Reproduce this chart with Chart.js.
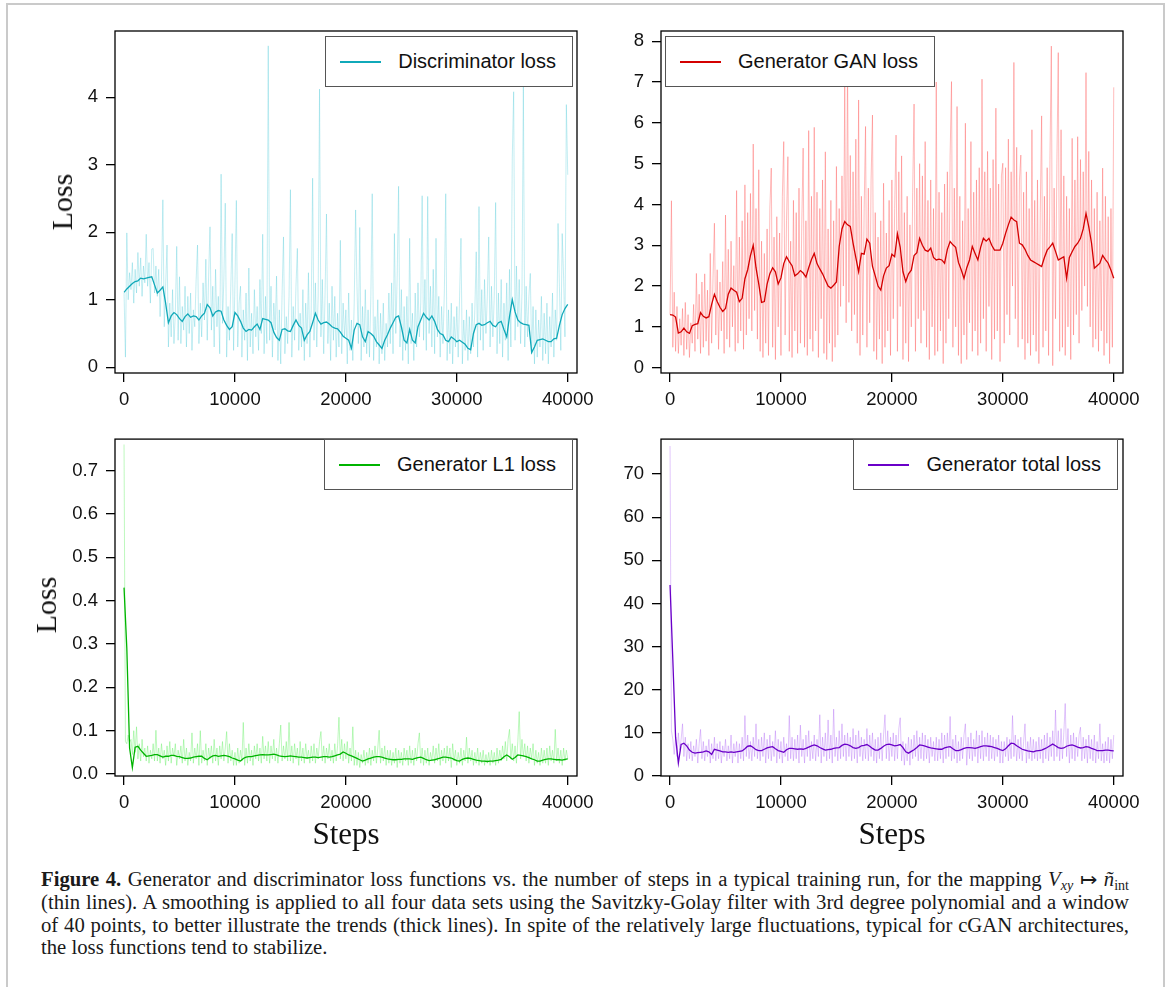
<!DOCTYPE html>
<html>
<head>
<meta charset="utf-8">
<script src="https://cdn.jsdelivr.net/npm/chart.js@4.4.1/dist/chart.umd.min.js"></script>
<style>
  html, body { margin: 0; padding: 0; background: #fff; }
  #page { position: relative; width: 1167px; height: 987px; overflow: hidden; background: #fff; }
  #frame { position: absolute; left: 6px; top: 3px; width: 1155px; height: 1000px; border: 2px solid #cacaca; }
  canvas { position: absolute; }
  .legend { position: absolute; height: 51px; box-sizing: border-box; border: 1.5px solid #555; background: #fff;
            display: flex; align-items: center; padding: 0 16px 0 14px; z-index: 2;
            font: 20px "Liberation Sans", Arial, sans-serif; color: #111; white-space: nowrap; }
  .legend .swatch { display: inline-block; width: 41px; height: 2px; margin-right: 17px; }
  .ytitle { position: absolute; font: 30px "Liberation Serif", "Times New Roman", serif; line-height: 30px;
            color: #111; white-space: nowrap; transform: translate(-50%, -50%) rotate(-90deg); }
  .xtitle { position: absolute; font: 31px "Liberation Serif", "Times New Roman", serif; line-height: 31px;
            color: #111; white-space: nowrap; transform: translateX(-50%); }
  .cap { position: absolute; left: 41px; font: 20px "Liberation Serif", "Times New Roman", serif; line-height: 20px;
         color: #1a1a1a; white-space: nowrap; transform-origin: 0 0; }
  .cap sub { font-size: 0.68em; vertical-align: -0.28em; line-height: 0; }
</style>
</head>
<body>
<div id="page">
  <div id="frame"></div>

  <canvas id="cDisc" width="610" height="420" style="left:0;top:0;"></canvas>
  <canvas id="cGan" width="577" height="420" style="left:590px;top:0;"></canvas>
  <canvas id="cL1" width="610" height="440" style="left:0;top:420px;"></canvas>
  <canvas id="cTot" width="577" height="440" style="left:590px;top:420px;"></canvas>

  <div class="legend" style="right:594px;top:36px;"><span class="swatch" style="background:#10a9b9"></span>Discriminator loss</div>
  <div class="legend" style="left:665px;top:36px;"><span class="swatch" style="background:#d40000"></span>Generator GAN loss</div>
  <div class="legend" style="right:594px;top:439px;"><span class="swatch" style="background:#00b400"></span>Generator L1 loss</div>
  <div class="legend" style="right:49px;top:439px;"><span class="swatch" style="background:#6a00c8"></span>Generator total loss</div>

  <div class="ytitle" style="left:61.5px;top:202px;">Loss</div>
  <div class="ytitle" style="left:46px;top:605px;">Loss</div>
  <div class="xtitle" style="left:346px;top:818px;">Steps</div>
  <div class="xtitle" style="left:892px;top:818px;">Steps</div>

  <div class="cap j" style="top:869px;"><span><b>Figure 4.</b> Generator and discriminator loss functions vs. the number of steps in a typical training run, for the mapping <i>V</i><sub><i>xy</i></sub> ↦ <i>ñ</i><sub>int</sub></span></div>
  <div class="cap j" style="top:892px;"><span>(thin lines). A smoothing is applied to all four data sets using the Savitzky-Golay filter with 3rd degree polynomial and a window</span></div>
  <div class="cap j" style="top:915px;"><span>of 40 points, to better illustrate the trends (thick lines). In spite of the relatively large fluctuations, typical for cGAN architectures,</span></div>
  <div class="cap" style="top:937px;"><span>the loss functions tend to stabilize.</span></div>
</div>

<script>
// ---- training steps at which the raw losses were logged ----
const rawSteps = [
  0,125,250,375,500,625,750,875,
  1000,1125,1250,1375,1500,1625,1750,1875,
  2000,2125,2250,2375,2500,2625,2750,2875,
  3000,3125,3250,3375,3500,3625,3750,3875,
  4000,4125,4250,4375,4500,4625,4750,4875,
  5000,5125,5250,5375,5500,5625,5750,5875,
  6000,6125,6250,6375,6500,6625,6750,6875,
  7000,7125,7250,7375,7500,7625,7750,7875,
  8000,8125,8250,8375,8500,8625,8750,8875,
  9000,9125,9250,9375,9500,9625,9750,9875,
  10000,10125,10250,10375,10500,10625,10750,10875,
  11000,11125,11250,11375,11500,11625,11750,11875,
  12000,12125,12250,12375,12500,12625,12750,12875,
  13000,13125,13250,13375,13500,13625,13750,13875,
  14000,14125,14250,14375,14500,14625,14750,14875,
  15000,15125,15250,15375,15500,15625,15750,15875,
  16000,16125,16250,16375,16500,16625,16750,16875,
  17000,17125,17250,17375,17500,17625,17750,17875,
  18000,18125,18250,18375,18500,18625,18750,18875,
  19000,19125,19250,19375,19500,19625,19750,19875,
  20000,20125,20250,20375,20500,20625,20750,20875,
  21000,21125,21250,21375,21500,21625,21750,21875,
  22000,22125,22250,22375,22500,22625,22750,22875,
  23000,23125,23250,23375,23500,23625,23750,23875,
  24000,24125,24250,24375,24500,24625,24750,24875,
  25000,25125,25250,25375,25500,25625,25750,25875,
  26000,26125,26250,26375,26500,26625,26750,26875,
  27000,27125,27250,27375,27500,27625,27750,27875,
  28000,28125,28250,28375,28500,28625,28750,28875,
  29000,29125,29250,29375,29500,29625,29750,29875,
  30000,30125,30250,30375,30500,30625,30750,30875,
  31000,31125,31250,31375,31500,31625,31750,31875,
  32000,32125,32250,32375,32500,32625,32750,32875,
  33000,33125,33250,33375,33500,33625,33750,33875,
  34000,34125,34250,34375,34500,34625,34750,34875,
  35000,35125,35250,35375,35500,35625,35750,35875,
  36000,36125,36250,36375,36500,36625,36750,36875,
  37000,37125,37250,37375,37500,37625,37750,37875,
  38000,38125,38250,38375,38500,38625,38750,38875,
  39000,39125,39250,39375,39500,39625,39750,39875,
  40000
];

// ---- steps of the smoothed (Savitzky-Golay) curves ----
const smoothSteps = [
  0,250,500,750,1000,1250,1500,1750,2000,2250,
  2500,2750,3000,3250,3500,3750,4000,4250,4500,4750,
  5000,5250,5500,5750,6000,6250,6500,6750,7000,7250,
  7500,7750,8000,8250,8500,8750,9000,9250,9500,9750,
  10000,10250,10500,10750,11000,11250,11500,11750,12000,12250,
  12500,12750,13000,13250,13500,13750,14000,14250,14500,14750,
  15000,15250,15500,15750,16000,16250,16500,16750,17000,17250,
  17500,17750,18000,18250,18500,18750,19000,19250,19500,19750,
  20000,20250,20500,20750,21000,21250,21500,21750,22000,22250,
  22500,22750,23000,23250,23500,23750,24000,24250,24500,24750,
  25000,25250,25500,25750,26000,26250,26500,26750,27000,27250,
  27500,27750,28000,28250,28500,28750,29000,29250,29500,29750,
  30000,30250,30500,30750,31000,31250,31500,31750,32000,32250,
  32500,32750,33000,33250,33500,33750,34000,34250,34500,34750,
  35000,35250,35500,35750,36000,36250,36500,36750,37000,37250,
  37500,37750,38000,38250,38500,38750,39000,39250,39500,39750,
  40000
];

// ---- discriminator loss ----
const discRaw = [
  1.10,0.15,1.99,1.00,1.40,1.15,1.55,0.95,
  1.45,1.10,1.70,1.20,1.62,1.05,1.50,1.25,
  1.97,1.20,1.55,0.95,1.75,1.76,1.10,1.50,
  1.05,1.45,0.75,1.30,2.48,0.60,1.20,1.81,
  0.30,0.95,0.45,1.15,0.35,0.80,1.79,0.40,
  1.34,0.35,0.90,0.55,1.20,0.30,1.05,0.50,
  1.10,0.25,0.85,0.60,1.30,1.81,0.35,0.95,
  0.45,1.25,0.70,1.60,0.40,1.35,2.08,0.55,
  1.20,0.30,1.45,0.60,1.05,0.20,2.86,0.65,
  1.30,2.43,0.15,0.90,0.40,1.20,1.98,0.25,
  1.25,2.47,0.30,0.95,1.20,0.15,0.85,0.40,
  1.10,0.10,1.47,0.30,0.80,0.20,1.15,0.45,
  0.90,0.25,1.30,0.50,1.97,0.20,1.05,0.35,
  4.76,0.40,1.20,0.15,0.95,0.55,1.35,0.10,
  0.85,0.05,1.10,1.93,0.20,0.75,0.35,1.05,
  2.63,0.15,0.90,0.40,1.20,1.76,0.25,0.80,
  0.30,1.15,0.10,0.95,0.35,1.40,0.15,0.85,
  2.80,0.40,1.25,0.30,1.05,4.12,0.45,1.30,
  0.20,1.10,2.27,0.35,0.95,0.10,1.20,0.40,
  1.05,0.15,0.80,0.30,1.88,0.20,0.95,0.45,
  0.85,0.05,1.10,0.25,0.70,0.10,0.95,2.33,
  1.20,0.35,2.07,0.10,0.90,0.30,1.15,0.20,
  0.85,0.15,1.05,2.57,0.10,0.75,0.30,1.00,
  0.05,0.80,0.20,0.95,0.10,0.65,0.30,1.10,
  0.35,1.25,0.20,1.98,0.50,1.35,2.68,0.30,
  1.15,0.10,0.90,0.25,1.05,0.05,1.91,0.35,
  0.80,0.10,1.10,0.30,1.25,0.45,0.95,2.54,
  0.40,1.30,0.25,2.53,0.50,1.20,0.30,1.45,
  0.20,1.91,0.45,1.05,0.15,0.90,0.35,1.10,
  2.57,0.10,0.85,0.20,0.95,0.05,0.75,0.30,
  0.90,0.15,1.05,1.91,0.05,0.70,0.25,0.85,
  0.10,0.75,0.20,0.95,0.30,0.85,1.71,0.15,
  2.38,0.40,1.15,0.25,1.30,0.50,1.05,1.93,
  0.30,1.20,0.45,1.05,2.44,0.20,1.10,0.35,
  1.30,0.15,0.95,0.40,1.25,0.10,1.45,0.30,
  3.10,4.08,0.40,1.50,0.60,1.30,0.35,1.10,
  4.16,0.30,1.20,0.45,1.05,1.39,0.20,0.90,
  0.05,0.85,0.15,0.70,0.30,1.05,0.10,0.80,
  0.20,0.95,0.05,0.75,0.30,1.10,0.15,0.85,
  0.40,2.13,1.20,0.25,1.98,1.35,0.45,3.89,
  2.85
];
const discSmooth = [
  1.11,1.16,1.20,1.24,1.27,1.28,1.32,1.31,1.32,1.33,
  1.34,1.22,1.10,1.14,1.19,0.95,0.66,0.76,0.81,0.78,
  0.72,0.68,0.75,0.79,0.74,0.76,0.75,0.70,0.76,0.80,
  0.93,0.88,0.76,0.82,0.84,0.83,0.70,0.62,0.56,0.60,
  0.81,0.76,0.68,0.58,0.53,0.56,0.55,0.60,0.64,0.56,
  0.72,0.71,0.70,0.66,0.52,0.44,0.40,0.56,0.57,0.54,
  0.53,0.62,0.70,0.62,0.58,0.40,0.48,0.53,0.66,0.80,
  0.70,0.64,0.66,0.67,0.64,0.60,0.58,0.57,0.52,0.46,
  0.43,0.40,0.28,0.55,0.65,0.63,0.45,0.38,0.53,0.50,
  0.46,0.38,0.33,0.28,0.40,0.48,0.58,0.66,0.74,0.76,
  0.60,0.40,0.36,0.56,0.40,0.36,0.60,0.70,0.80,0.74,
  0.70,0.76,0.68,0.56,0.50,0.48,0.40,0.38,0.45,0.42,
  0.38,0.40,0.37,0.34,0.28,0.26,0.50,0.63,0.65,0.62,
  0.63,0.66,0.68,0.62,0.60,0.66,0.68,0.56,0.45,0.75,
  1.00,0.82,0.70,0.66,0.64,0.63,0.62,0.22,0.30,0.40,
  0.41,0.42,0.40,0.38,0.38,0.42,0.43,0.62,0.78,0.87,
  0.93
];

// ---- generator GAN loss ----
const ganRaw = [
  1.30,4.09,0.50,1.85,0.40,1.50,0.35,1.20,
  0.55,1.45,0.30,1.60,0.45,1.30,0.25,1.10,
  0.60,1.55,0.40,2.31,0.70,1.80,0.35,2.10,
  0.50,2.30,0.65,1.90,0.30,2.80,0.60,2.20,
  3.54,0.80,2.40,0.45,2.10,0.90,2.60,0.35,
  3.74,0.70,2.90,0.50,3.10,1.00,2.50,0.40,
  4.34,0.60,3.20,0.90,3.60,0.45,4.48,0.80,
  3.80,1.20,4.27,0.90,5.48,1.40,3.90,0.70,
  4.85,0.40,3.10,0.25,2.80,0.60,3.40,0.30,
  3.90,4.89,0.50,3.20,0.20,3.70,1.00,3.30,
  0.30,4.20,5.54,0.80,3.60,5.17,0.40,3.10,
  0.25,4.10,0.90,3.80,0.35,4.40,0.60,3.50,
  5.38,0.50,3.60,0.30,5.81,0.70,4.20,0.40,
  5.89,0.90,4.30,0.25,3.90,1.20,4.60,0.35,
  5.29,0.20,3.40,0.60,4.10,0.15,3.60,0.50,
  4.93,0.80,3.90,1.50,4.70,2.00,6.89,1.10,
  7.50,1.60,5.20,0.90,4.80,1.30,5.60,0.60,
  6.56,0.30,4.20,0.80,3.90,5.91,0.50,4.40,
  1.10,4.60,6.19,0.40,3.80,0.20,3.20,0.70,
  3.60,0.10,4.52,0.50,3.30,0.90,4.10,0.30,
  4.60,1.20,3.90,5.70,0.40,4.80,1.50,5.19,
  0.20,3.80,0.60,4.20,0.15,3.50,1.00,4.30,
  6.46,0.40,4.40,1.20,5.00,0.60,4.70,1.40,
  5.54,0.50,4.10,0.20,4.60,1.00,3.90,0.30,
  7.00,0.40,4.30,0.90,3.80,0.10,4.50,0.60,
  4.80,1.20,5.20,7.01,0.50,4.40,1.00,6.40,
  0.30,4.20,0.10,3.60,0.80,5.99,0.20,3.90,
  1.10,5.54,0.40,4.30,0.90,4.60,0.30,4.90,
  0.60,7.07,1.20,4.80,0.40,5.30,1.50,4.40,
  0.20,5.10,0.70,6.36,0.90,4.50,0.15,4.70,
  5.01,0.60,4.90,1.30,5.60,0.80,4.80,2.00,
  7.48,1.20,5.40,0.50,4.60,5.21,0.70,4.30,
  0.20,4.80,0.60,3.90,0.30,5.83,0.80,4.10,
  0.40,4.60,0.10,3.80,6.17,0.50,4.20,0.90,
  4.90,0.30,5.10,7.88,0.05,4.40,1.20,5.00,
  7.72,0.40,5.83,0.50,4.70,0.30,4.20,1.00,
  3.90,0.20,5.62,0.80,4.60,1.30,5.66,0.60,
  5.10,1.40,4.80,2.00,7.23,1.50,5.30,1.00,
  4.60,0.50,3.90,0.70,4.30,0.40,3.60,0.90,
  4.89,0.30,4.20,0.60,3.70,0.10,3.90,0.50,
  6.87
];
const ganSmooth = [
  1.30,1.29,1.24,0.85,0.88,0.97,0.88,0.84,1.03,1.06,
  1.08,1.35,1.26,1.22,1.25,1.55,1.80,1.62,1.48,1.38,
  1.45,1.80,1.95,1.90,1.85,1.62,1.70,2.18,2.40,2.75,
  3.00,2.45,2.05,1.60,1.62,2.05,2.30,2.45,2.35,2.05,
  2.20,2.55,2.72,2.60,2.50,2.25,2.30,2.38,2.32,2.22,
  2.45,2.65,2.80,2.55,2.42,2.30,2.15,2.00,1.95,2.02,
  2.10,2.97,3.40,3.58,3.50,3.46,3.05,2.70,2.35,2.80,
  2.78,3.15,3.05,2.48,2.25,2.00,1.90,2.25,2.44,2.50,
  2.78,2.72,3.28,2.95,2.35,2.11,2.30,2.39,2.75,2.82,
  3.17,3.00,2.88,2.85,2.93,2.70,2.64,2.66,2.64,2.56,
  2.90,3.09,3.01,2.95,2.58,2.40,2.19,2.45,2.64,2.97,
  2.80,2.64,2.95,3.17,3.10,3.17,3.00,2.88,2.88,2.88,
  3.05,3.29,3.50,3.69,3.62,3.58,3.05,3.01,2.90,2.75,
  2.64,2.60,2.56,2.52,2.48,2.70,2.88,2.96,3.05,2.85,
  2.64,2.68,2.72,2.19,2.70,2.84,2.97,3.05,3.17,3.40,
  3.78,3.45,3.05,2.44,2.50,2.56,2.75,2.65,2.56,2.39,
  2.19
];

// ---- generator L1 loss ----
const l1Raw = [
  0.76,0.075,0.07,0.09,0.072,0.08,0.045,0.10,
  0.05,0.109,0.035,0.07,0.03,0.08,0.04,0.06,
  0.03,0.065,0.025,0.055,0.035,0.07,0.03,0.101,
  0.03,0.06,0.025,0.07,0.035,0.055,0.02,0.065,
  0.03,0.075,0.025,0.06,0.04,0.07,0.02,0.055,
  0.035,0.065,0.025,0.08,0.03,0.06,0.02,0.05,
  0.03,0.095,0.025,0.06,0.035,0.07,0.02,0.100,
  0.025,0.055,0.03,0.07,0.02,0.06,0.035,0.065,
  0.025,0.08,0.03,0.06,0.02,0.065,0.035,0.075,
  0.03,0.06,0.098,0.025,0.07,0.03,0.055,0.02,
  0.05,0.02,0.06,0.025,0.055,0.03,0.119,0.02,
  0.06,0.025,0.07,0.03,0.055,0.02,0.065,0.035,
  0.07,0.03,0.06,0.025,0.087,0.035,0.065,0.03,
  0.075,0.025,0.065,0.035,0.08,0.03,0.06,0.025,
  0.07,0.113,0.03,0.065,0.035,0.075,0.03,0.119,
  0.03,0.065,0.025,0.07,0.035,0.06,0.02,0.075,
  0.03,0.06,0.025,0.07,0.035,0.055,0.025,0.065,
  0.03,0.07,0.025,0.06,0.035,0.075,0.098,0.03,
  0.065,0.025,0.06,0.035,0.07,0.03,0.055,0.025,
  0.07,0.03,0.065,0.131,0.035,0.08,0.03,0.07,
  0.035,0.075,0.025,0.06,0.03,0.109,0.02,0.055,
  0.02,0.05,0.015,0.045,0.025,0.055,0.02,0.05,
  0.025,0.06,0.02,0.055,0.03,0.065,0.025,0.06,
  0.101,0.025,0.06,0.03,0.065,0.02,0.055,0.025,
  0.055,0.02,0.05,0.025,0.06,0.015,0.055,0.025,
  0.05,0.02,0.06,0.03,0.055,0.02,0.065,0.025,
  0.055,0.02,0.06,0.03,0.07,0.095,0.025,0.06,
  0.02,0.055,0.025,0.06,0.02,0.05,0.03,0.065,
  0.025,0.06,0.03,0.07,0.02,0.055,0.03,0.06,
  0.025,0.065,0.03,0.06,0.015,0.07,0.03,0.055,
  0.02,0.05,0.025,0.06,0.02,0.055,0.03,0.085,
  0.025,0.06,0.03,0.055,0.02,0.05,0.025,0.06,
  0.02,0.05,0.025,0.055,0.02,0.045,0.025,0.05,
  0.02,0.055,0.025,0.05,0.02,0.06,0.025,0.055,
  0.03,0.065,0.035,0.075,0.03,0.08,0.103,0.035,
  0.07,0.03,0.065,0.025,0.075,0.144,0.035,0.08,
  0.04,0.07,0.03,0.065,0.025,0.06,0.035,0.07,
  0.02,0.055,0.025,0.05,0.02,0.06,0.025,0.055,
  0.025,0.06,0.02,0.065,0.03,0.055,0.025,0.103,
  0.03,0.06,0.025,0.055,0.02,0.06,0.03,0.055,
  0.035
];
const l1Smooth = [
  0.43,0.29,0.06,0.015,0.062,0.064,0.055,0.048,0.041,0.042,
  0.043,0.045,0.045,0.042,0.039,0.041,0.041,0.043,0.043,0.041,
  0.040,0.038,0.036,0.036,0.037,0.039,0.040,0.041,0.041,0.036,
  0.033,0.038,0.042,0.043,0.041,0.042,0.043,0.042,0.040,0.037,
  0.035,0.032,0.030,0.036,0.039,0.040,0.040,0.042,0.043,0.044,
  0.045,0.044,0.044,0.045,0.046,0.044,0.042,0.041,0.040,0.041,
  0.042,0.041,0.040,0.039,0.039,0.038,0.037,0.038,0.039,0.039,
  0.038,0.039,0.040,0.040,0.039,0.040,0.042,0.044,0.046,0.051,
  0.048,0.044,0.042,0.039,0.036,0.033,0.030,0.032,0.035,0.037,
  0.039,0.040,0.040,0.039,0.037,0.035,0.034,0.033,0.033,0.034,
  0.034,0.035,0.035,0.035,0.034,0.036,0.038,0.039,0.036,0.033,
  0.031,0.032,0.033,0.035,0.037,0.039,0.039,0.038,0.037,0.034,
  0.031,0.030,0.034,0.036,0.037,0.036,0.034,0.032,0.031,0.030,
  0.030,0.029,0.030,0.030,0.031,0.032,0.034,0.040,0.044,0.040,
  0.034,0.038,0.044,0.043,0.042,0.040,0.038,0.035,0.033,0.030,
  0.030,0.032,0.034,0.035,0.035,0.034,0.033,0.033,0.032,0.034,
  0.035
];

// ---- generator total loss ----
const totalRaw = [
  76.5,10.5,8.5,5.0,9.0,4.5,10.0,6.0,
  8.5,12.1,4.5,9.0,3.5,7.5,4.0,8.0,
  3.5,7.0,4.5,8.5,3.0,7.5,10.8,4.0,
  8.0,3.5,7.0,4.5,8.5,3.0,7.5,4.0,
  9.0,3.5,7.5,4.0,8.0,3.0,7.0,4.5,
  8.5,3.5,7.0,4.0,9.5,3.0,7.5,4.5,
  8.0,3.0,7.5,4.0,9.0,3.5,14.0,4.5,
  9.5,4.0,8.0,3.5,9.0,4.5,12.1,4.0,
  8.5,3.5,9.0,4.5,10.0,3.0,8.5,4.0,
  9.5,3.5,8.0,4.5,10.5,3.0,8.5,4.0,
  8.0,3.0,9.0,4.5,7.5,3.5,14.0,4.0,
  9.0,3.5,8.5,4.0,9.5,3.0,11.8,4.5,
  8.5,3.0,9.5,4.5,10.5,3.5,8.0,4.0,
  9.5,3.5,8.5,4.5,14.2,3.0,9.0,4.5,
  10.0,3.5,13.0,4.0,9.5,3.0,15.5,4.5,
  9.0,3.5,10.5,4.0,12.1,4.5,9.5,3.5,
  10.0,4.5,9.0,3.5,11.0,4.0,9.5,3.0,
  10.5,4.5,9.0,3.5,8.5,4.0,11.0,3.5,
  9.5,4.5,10.0,3.5,8.5,3.0,9.0,4.0,
  10.0,3.5,9.5,14.2,4.0,10.5,3.5,9.0,
  4.5,10.0,3.5,9.5,4.0,11.0,13.5,3.5,
  8.0,2.5,7.5,3.5,9.0,2.5,8.5,4.0,
  9.5,4.5,10.5,3.5,9.0,4.0,10.0,3.5,
  9.5,4.0,8.5,3.0,9.0,4.5,8.0,3.5,
  9.0,3.5,8.5,4.0,10.0,3.0,9.5,4.0,
  10.0,4.5,13.8,3.5,8.5,4.0,9.5,3.0,
  8.0,3.5,9.0,4.0,9.5,12.1,2.5,9.0,
  4.0,10.0,3.5,8.5,4.5,10.5,3.0,9.5,
  4.0,10.5,3.5,9.0,4.5,10.0,3.5,9.5,
  4.0,9.0,3.5,8.5,4.5,9.5,3.0,8.0,
  3.0,8.0,4.5,9.0,3.5,8.5,4.0,14.0,
  4.5,9.5,3.5,8.5,4.0,9.0,3.5,8.0,
  12.1,3.0,8.0,4.0,9.0,3.5,8.5,4.0,
  8.0,3.5,9.0,4.0,8.5,3.0,9.5,4.0,
  10.0,3.5,9.0,4.5,10.5,3.5,15.3,4.5,
  10.5,3.5,11.0,4.0,10.0,16.8,4.5,11.0,
  3.0,9.5,4.0,10.0,3.5,9.0,4.5,9.5,
  11.3,3.5,9.0,4.0,8.5,3.0,9.5,4.0,
  8.5,3.5,9.5,3.0,8.0,4.0,12.1,3.5,
  7.5,3.0,8.0,3.5,9.0,3.0,8.5,4.0,
  9.5
];
const totalSmooth = [
  44.3,27.0,9.0,3.0,7.3,7.6,7.0,6.0,5.5,5.3,
  5.4,5.5,5.6,5.8,5.6,5.0,6.2,6.0,5.8,5.6,
  5.6,5.5,5.6,5.5,5.6,5.7,5.8,6.3,6.9,7.0,
  6.6,6.1,5.9,5.9,6.2,6.5,6.7,6.8,6.3,5.9,
  5.7,5.5,6.1,6.4,6.4,6.3,6.2,6.3,6.2,6.4,
  6.7,7.0,7.2,7.0,6.6,6.3,6.0,6.1,6.2,6.4,
  6.5,6.6,7.1,7.4,7.3,7.0,6.6,6.4,6.6,7.0,
  7.1,7.3,6.9,6.4,6.0,6.0,6.4,6.9,7.3,7.4,
  7.2,7.0,7.1,7.3,6.6,5.6,5.3,5.7,6.1,6.6,
  7.2,7.1,6.9,6.7,6.5,6.4,6.3,6.2,6.2,6.5,
  6.7,6.8,6.3,5.9,5.9,6.1,6.4,6.6,6.6,6.5,
  6.4,6.6,6.8,7.0,7.0,6.9,6.8,6.6,6.4,6.1,
  5.9,6.3,7.0,7.6,7.5,7.0,6.6,6.2,6.0,5.8,
  5.7,5.6,5.8,5.9,6.0,6.3,6.6,7.0,7.4,7.0,
  6.6,6.4,6.5,6.9,7.1,7.2,7.0,6.7,6.5,6.6,
  6.8,6.7,6.4,6.2,5.9,5.9,5.9,6.0,6.0,5.9,
  5.8
];

// ---- axis ticks ----
const stepTicks = [0, 10000, 20000, 30000, 40000];
const discTicks = [0, 1, 2, 3, 4];
const ganTicks = [0, 1, 2, 3, 4, 5, 6, 7, 8];
const l1Ticks = [0, 0.1, 0.2, 0.3, 0.4, 0.5, 0.6, 0.7];
const totalTicks = [0, 10, 20, 30, 40, 50, 60, 70];

const TICK_FONT = { family: '"Liberation Sans", Arial, sans-serif', size: 18.5 };
const AXIS_COLOR = '#000';

// closed box around each plotting area
const frameBox = {
  id: 'frameBox',
  afterDatasetsDraw(chart) {
    const { ctx, chartArea: a } = chart;
    ctx.save();
    ctx.strokeStyle = AXIS_COLOR;
    ctx.lineWidth = 1.3;
    ctx.strokeRect(a.left, a.top, a.right - a.left, a.bottom - a.top);
    ctx.restore();
  }
};

function points(steps, values) {
  return steps.map((s, i) => ({ x: s, y: values[i] }));
}

function panel(id, p) {
  return new Chart(document.getElementById(id), {
    type: 'line',
    data: {
      datasets: [
        { data: points(smoothSteps, p.smooth), borderColor: p.smoothColor, borderWidth: 1.3,
          pointRadius: 0, tension: 0, fill: false },
        { data: points(rawSteps, p.raw), borderColor: p.rawColor, borderWidth: 1,
          pointRadius: 0, tension: 0, fill: false }
      ]
    },
    options: {
      responsive: false,
      animation: false,
      events: [],
      layout: { padding: p.padding },
      plugins: { legend: { display: false }, tooltip: { enabled: false } },
      scales: {
        x: {
          type: 'linear', min: -815, max: 40835,
          afterBuildTicks: s => { s.ticks = stepTicks.map(v => ({ value: v })); },
          afterFit: s => { s.height = p.xHeight; },
          ticks: { font: TICK_FONT, color: '#111', padding: 7, maxRotation: 0, autoSkip: false,
                   callback: v => String(v) },
          grid: { drawOnChartArea: false, drawTicks: true, tickLength: 9, color: AXIS_COLOR, lineWidth: 1.3 },
          border: { display: false }
        },
        y: {
          type: 'linear', min: p.yMin, max: p.yMax,
          afterBuildTicks: s => { s.ticks = p.yTicks.map(v => ({ value: v })); },
          afterFit: s => { s.width = p.yWidth; },
          ticks: { font: TICK_FONT, color: '#111', padding: 8, autoSkip: false,
                   callback: v => p.fmt(v) },
          grid: { drawOnChartArea: false, drawTicks: true, tickLength: 9, color: AXIS_COLOR, lineWidth: 1.3 },
          border: { display: false }
        }
      }
    },
    plugins: [frameBox]
  });
}

panel('cDisc', {
  raw: discRaw, smooth: discSmooth,
  rawColor: 'rgba(70,200,214,0.32)', smoothColor: '#10a9b9',
  yMin: -0.085, yMax: 4.98, yTicks: discTicks, fmt: v => String(v),
  padding: { left: 0, top: 31, right: 33, bottom: 0 }, yWidth: 115, xHeight: 47
});
panel('cGan', {
  raw: ganRaw, smooth: ganSmooth,
  rawColor: 'rgba(255,95,95,0.42)', smoothColor: '#d40000',
  yMin: -0.13, yMax: 8.25, yTicks: ganTicks, fmt: v => String(v),
  padding: { left: 0, top: 31, right: 44, bottom: 0 }, yWidth: 71, xHeight: 47
});
panel('cL1', {
  raw: l1Raw, smooth: l1Smooth,
  rawColor: 'rgba(110,240,110,0.45)', smoothColor: '#00b400',
  yMin: -0.0045, yMax: 0.7725, yTicks: l1Ticks, fmt: v => v.toFixed(1),
  padding: { left: 0, top: 14, right: 33, bottom: 0 }, yWidth: 115, xHeight: 84
});
panel('cTot', {
  raw: totalRaw, smooth: totalSmooth,
  rawColor: 'rgba(175,105,245,0.38)', smoothColor: '#6a00c8',
  yMin: 0, yMax: 78.1, yTicks: totalTicks, fmt: v => String(v),
  padding: { left: 0, top: 14, right: 44, bottom: 0 }, yWidth: 71, xHeight: 84
});

// caption: widen the text slightly (as far as the longest line allows), then justify full lines
const CAPTION_WIDTH = 1088;
const capLines = Array.from(document.querySelectorAll('.cap'));
const fullLines = capLines.filter(l => l.classList.contains('j'));
const widest = Math.max(...fullLines.map(l => l.firstElementChild.getBoundingClientRect().width));
const capScale = Math.min(1.14, CAPTION_WIDTH / (widest * 1.012));
capLines.forEach(l => { l.style.transform = 'scaleX(' + capScale + ')'; });
fullLines.forEach(line => {
  const span = line.firstElementChild;
  const natural = span.getBoundingClientRect().width / capScale;
  const gaps = (span.textContent.match(/ /g) || []).length;
  if (gaps) span.style.wordSpacing = ((CAPTION_WIDTH / capScale - natural) / gaps) + 'px';
});
</script>
</body>
</html>
